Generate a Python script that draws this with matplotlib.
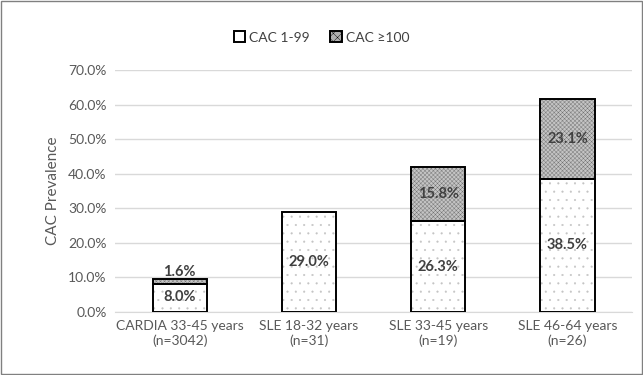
import matplotlib.pyplot as plt
from matplotlib.patches import Patch, Rectangle
import numpy as np

plt.rcParams['font.family'] = ['Lato', 'DejaVu Sans']
plt.rcParams['hatch.linewidth'] = 0.3

groups = ['CARDIA 33-45 years\n(n=3042)', 'SLE 18-32 years\n(n=31)',
          'SLE 33-45 years\n(n=19)', 'SLE 46-64 years\n(n=26)']
cac_1_99 = [8.0, 29.0, 26.3, 38.5]
cac_100 = [1.6, 0.0, 15.8, 23.1]

fig = plt.figure(figsize=(6.43, 3.75), dpi=100)
ax = fig.add_axes([0.179, 0.168, 0.804, 0.645])
x = np.arange(len(groups))
w = 0.42

# hatched fills drawn with grey edge, outlines drawn separately in black
ax.bar(x, cac_1_99, w, color='white', edgecolor='#c4c4c4', hatch='..', linewidth=0, zorder=2)
ax.bar(x, cac_100, w, bottom=cac_1_99, color='#c4c4c4', edgecolor='#707070', hatch='xxxxxxxx',
       linewidth=0, zorder=2)
ax.bar(x, cac_1_99, w, fill=False, edgecolor='black', linewidth=1.4, zorder=3)
for i in range(len(groups)):
    if cac_100[i] > 0:
        ax.bar(x[i], cac_100[i], w, bottom=cac_1_99[i], fill=False, edgecolor='black',
               linewidth=1.4, zorder=3)

lab = dict(ha='center', va='center', fontsize=10.5, fontweight='bold', color='#404040', zorder=4)
for i in range(len(groups)):
    if i == 0:
        ax.text(x[i], cac_1_99[i] / 2 + 0.3, f'{cac_1_99[i]:.1f}%', **lab)
        ax.text(x[i], cac_1_99[i] + cac_100[i] + 2.0, f'{cac_100[i]:.1f}%', **lab)
    else:
        ax.text(x[i], cac_1_99[i] / 2, f'{cac_1_99[i]:.1f}%', **lab)
        if cac_100[i] > 0:
            ax.text(x[i], cac_1_99[i] + cac_100[i] / 2, f'{cac_100[i]:.1f}%', **lab)

ax.set_ylim(0, 70)
ax.set_xlim(-0.5, 3.5)
ax.set_yticks(np.arange(0, 71, 10))
ax.set_yticklabels([f'{v:.1f}%' for v in range(0, 71, 10)])
ax.set_xticks(x)
ax.set_xticklabels(groups)
ax.tick_params(axis='both', length=0, labelsize=10, colors='#595959', pad=6)
ax.grid(axis='y', color='#d9d9d9', linewidth=1, zorder=0)
ax.set_axisbelow(True)
for s in ax.spines.values():
    s.set_visible(False)
ax.spines['bottom'].set_visible(True)
ax.spines['bottom'].set_color('#d9d9d9')
ax.set_ylabel('CAC Prevalence', fontsize=11, color='#595959', labelpad=6)

handles = [Patch(facecolor='white', edgecolor='black', linewidth=1.4),
           Patch(facecolor='#b0b0b0', edgecolor='black', hatch='xxxx', linewidth=1.4)]
fig.legend(handles, ['CAC 1-99', 'CAC \u2265100'], loc='center', bbox_to_anchor=(0.5, 0.9),
           ncol=2, frameon=False, fontsize=10, handlelength=0.8, handleheight=0.8,
           handletextpad=0.3, columnspacing=1.5, labelcolor='#404040')

fig.patches.append(Rectangle((0.002, 0.003), 0.996, 0.994, transform=fig.transFigure,
                             fill=False, edgecolor='#808080', linewidth=1))

fig.savefig('out.png', dpi=100)
